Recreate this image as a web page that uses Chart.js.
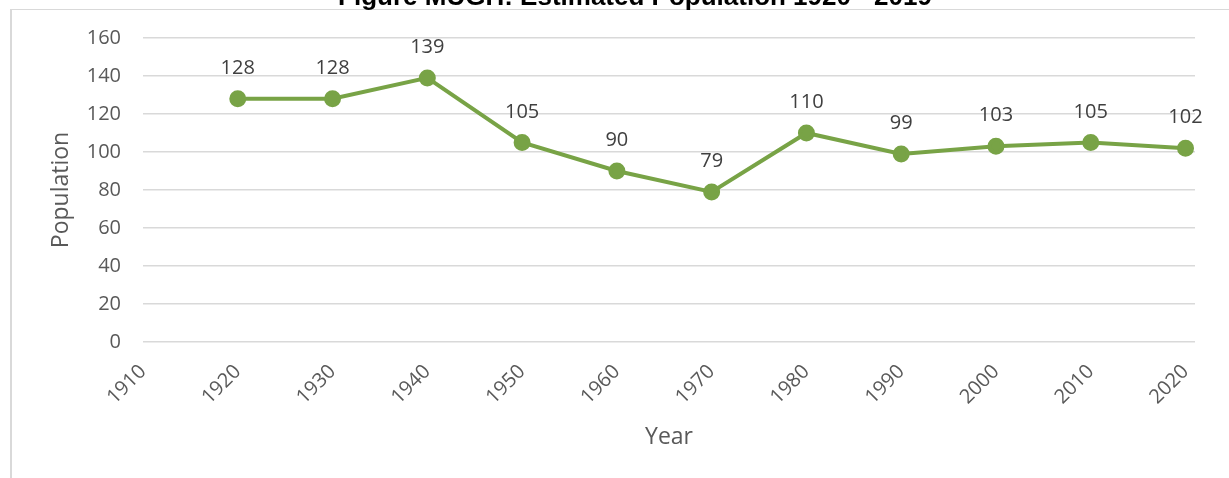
<!DOCTYPE html>
<html>
<head>
<meta charset="utf-8">
<script src="https://cdn.jsdelivr.net/npm/chart.js@4/dist/chart.umd.min.js"></script>
<style>
  html, body { margin: 0; padding: 0; background: #fff; }
  #wrap { position: relative; width: 1229px; height: 478px; overflow: hidden; }
  #frame { position: absolute; left: 10px; top: 9px; right: 0; bottom: 0;
           border-top: 1px solid #d9d9d9; border-left: 2px solid #d9d9d9; }
  canvas { position: absolute; left: 0; top: 0; }
</style>
</head>
<body>
<div id="wrap">
  <div id="frame"></div>
  <canvas id="linechart" width="1229" height="478"></canvas>
</div>
<script>
const chartTitle = 'Figure MUGH: Estimated Population 1920 - 2019';
const years = [1920, 1930, 1940, 1950, 1960, 1970, 1980, 1990, 2000, 2010, 2020];
const population = [128, 128, 139, 105, 90, 79, 110, 99, 103, 105, 102];
const xTicks = [1910, 1920, 1930, 1940, 1950, 1960, 1970, 1980, 1990, 2000, 2010, 2020];
const yTicks = [0, 20, 40, 60, 80, 100, 120, 140, 160];

const green = '#78a346';
const fontFamily = "'Open Sans', 'Noto Sans', sans-serif";
const tickFont = { family: fontFamily, size: 20 };

// clipped title at the very top of the picture
const titlePlugin = {
    id: 'clippedTitle',
    afterDraw(chart) {
        const c = chart.ctx;
        c.save();
        c.font = "bold 26px 'Liberation Sans', Arial, sans-serif";
        c.fillStyle = '#000';
        c.textAlign = 'center';
        c.textBaseline = 'alphabetic';
        c.fillText(chartTitle, 635, 5);
        c.restore();
    }
};

// value labels above each point
const valueLabels = {
    id: 'valueLabels',
    afterDatasetsDraw(chart) {
        const c = chart.ctx;
        const meta = chart.getDatasetMeta(0);
        c.save();
        c.font = "20px " + fontFamily;
        c.fillStyle = '#404040';
        c.textAlign = 'center';
        c.textBaseline = 'alphabetic';
        meta.data.forEach(function (pt, i) {
            c.fillText(String(population[i]), pt.x, pt.y - 25);
        });
        c.restore();
    }
};

const ctx = document.getElementById('linechart').getContext('2d');
const linechart = new Chart(ctx, {
    type: 'line',
    data: {
        datasets: [{
            label: 'Population',
            data: years.map(function (y, i) { return { x: y, y: population[i] }; }),
            borderColor: green,
            backgroundColor: green,
            borderWidth: 4,
            pointRadius: 6.5,
            pointHoverRadius: 6.5,
            pointBackgroundColor: green,
            pointBorderColor: green,
            tension: 0
        }]
    },
    options: {
        responsive: false,
        animation: false,
        layout: {
            padding: { left: 0, right: 34, top: 38, bottom: 0 }
        },
        plugins: {
            legend: { display: false },
            tooltip: { enabled: false }
        },
        scales: {
            x: {
                type: 'linear',
                min: 1910,
                max: 2021,
                afterBuildTicks: function (axis) {
                    axis.ticks = xTicks.map(function (v) { return { value: v }; });
                },
                afterFit: function (axis) { axis.height = 136; },
                grid: { display: false, drawTicks: false },
                border: { display: false },
                ticks: {
                    color: '#595959',
                    font: tickFont,
                    minRotation: 45,
                    maxRotation: 45,
                    padding: 18,
                    callback: function (v) { return String(v); }
                },
                title: {
                    display: true,
                    text: 'Year',
                    color: '#595959',
                    font: { family: fontFamily, size: 23 },
                    padding: { top: 0, bottom: 27 }
                }
            },
            y: {
                min: 0,
                max: 160,
                afterBuildTicks: function (axis) {
                    axis.ticks = yTicks.map(function (v) { return { value: v }; });
                },
                afterFit: function (axis) { axis.width = 143; },
                grid: { color: '#d9d9d9', lineWidth: 1.5, drawTicks: false },
                border: { display: false },
                ticks: {
                    color: '#595959',
                    font: tickFont,
                    padding: 22
                },
                title: {
                    display: true,
                    text: 'Population',
                    color: '#595959',
                    font: { family: fontFamily, size: 23 },
                    padding: { top: 48, bottom: 0 }
                }
            }
        }
    },
    plugins: [titlePlugin, valueLabels]
});
</script>
</body>
</html>
